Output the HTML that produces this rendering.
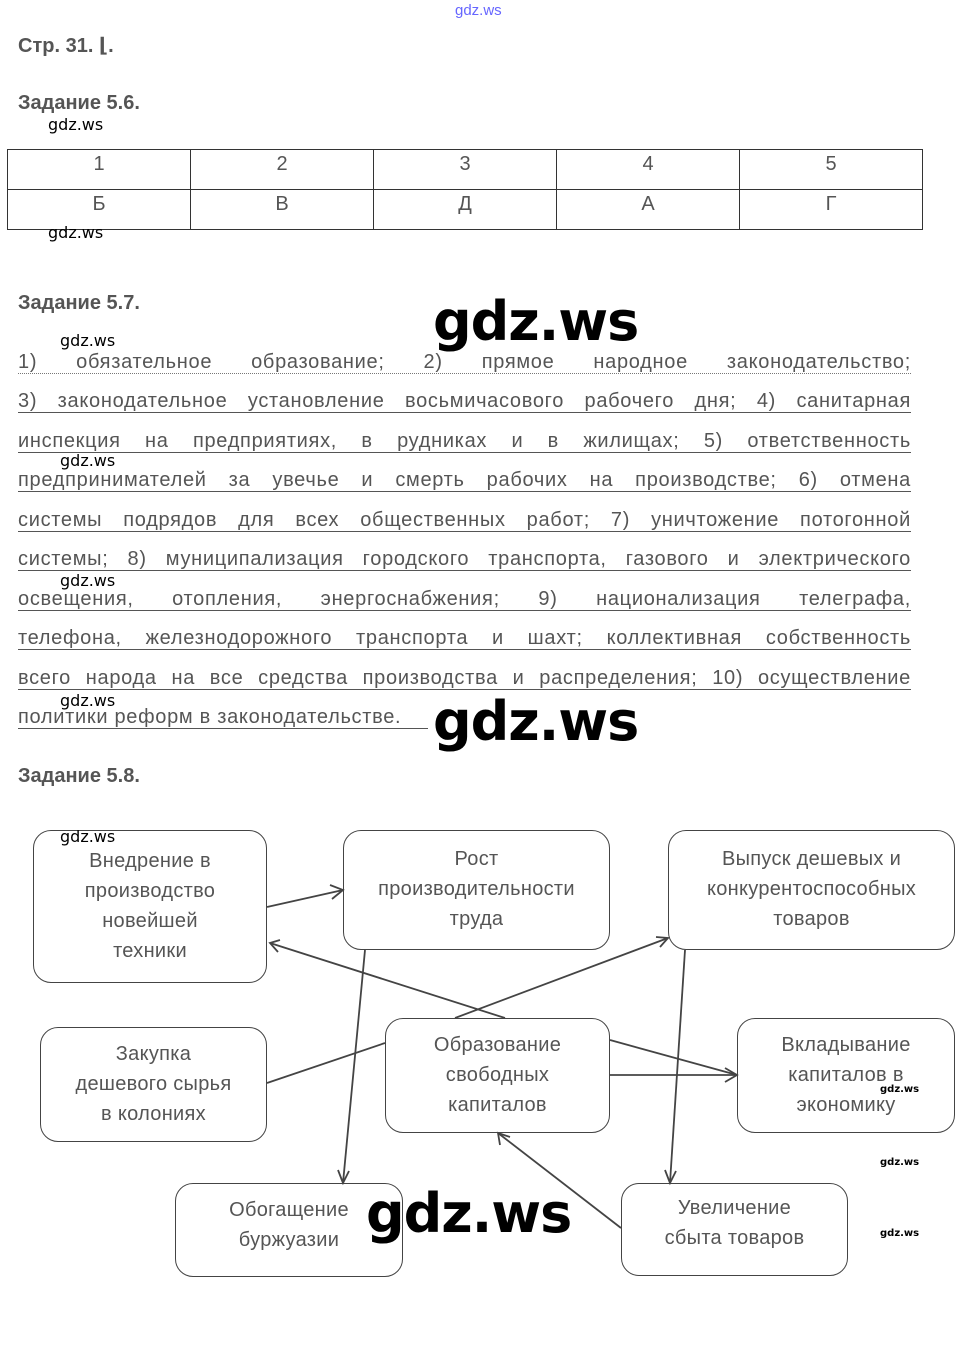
<!DOCTYPE html>
<html><head><meta charset="utf-8"><style>
body{margin:0;width:965px;height:1354px;background:#fff;position:relative;overflow:hidden;font-family:"Liberation Sans","DejaVu Sans",sans-serif;}
.a{position:absolute;white-space:nowrap;}
.h{font-size:20px;font-weight:bold;color:#555;}
.wm{position:absolute;font-family:"DejaVu Sans","Liberation Sans",sans-serif;font-weight:bold;color:#000;}
.s{font-size:16px;font-weight:normal;}
.L{font-size:54px;letter-spacing:-1px;}
.ln{position:absolute;left:18px;width:893px;font-size:20px;letter-spacing:0.7px;color:#555;text-align:justify;text-align-last:justify;white-space:nowrap;border-bottom:1.5px solid #555;line-height:22px;height:22px;}
table{position:absolute;left:7px;top:149px;border-collapse:collapse;}
td{border:1px solid #333;width:182px;height:39px;text-align:center;font-size:20px;color:#555;vertical-align:top;padding:0;line-height:28px;}
.bx{position:absolute;border:1.5px solid #444;border-radius:18px;box-sizing:border-box;text-align:center;font-size:20px;letter-spacing:0.3px;color:#555;line-height:30px;}
</style></head><body>
<div class="a" style="left:455px;top:2px;font-size:15px;color:#66f;">gdz.ws</div>
<div class="a h" style="left:18px;top:33px;">Стр. 31. ⌊.</div>
<div class="a h" style="left:18px;top:92px;">Задание 5.6.</div>
<div class="wm s" style="left:48px;top:115px;">gdz.ws</div>
<table><tr><td>1</td><td>2</td><td>3</td><td>4</td><td>5</td></tr><tr><td>Б</td><td>В</td><td>Д</td><td>А</td><td>Г</td></tr></table>
<div class="wm s" style="left:48px;top:223px;">gdz.ws</div>
<div class="a h" style="left:18px;top:292px;">Задание 5.7.</div>

<div class="ln" style="top:351px;border-bottom:1.5px dotted #777;">1) обязательное образование; 2) прямое народное законодательство;</div>
<div class="ln" style="top:390px;">3) законодательное установление восьмичасового рабочего дня; 4) санитарная</div>
<div class="ln" style="top:430px;">инспекция на предприятиях, в рудниках и в жилищах; 5) ответственность</div>
<div class="ln" style="top:469px;">предпринимателей за увечье и смерть рабочих на производстве; 6) отмена</div>
<div class="ln" style="top:509px;">системы подрядов для всех общественных работ; 7) уничтожение потогонной</div>
<div class="ln" style="top:548px;">системы; 8) муниципализация городского транспорта, газового и электрического</div>
<div class="ln" style="top:588px;">освещения, отопления, энергоснабжения; 9) национализация телеграфа,</div>
<div class="ln" style="top:627px;">телефона, железнодорожного транспорта и шахт; коллективная собственность</div>
<div class="ln" style="top:667px;">всего народа на все средства производства и распределения; 10) осуществление</div>
<div class="ln" style="top:706px;width:410px;text-align:left;text-align-last:left;">политики реформ в законодательстве.</div>
<div class="wm s" style="left:60px;top:331px;">gdz.ws</div>
<div class="wm s" style="left:60px;top:451px;">gdz.ws</div>
<div class="wm s" style="left:60px;top:571px;">gdz.ws</div>
<div class="wm s" style="left:60px;top:691px;">gdz.ws</div>
<div class="wm L" style="left:433px;top:290px;">gdz.ws</div>
<div class="wm L" style="left:433px;top:690px;">gdz.ws</div>

<div class="a h" style="left:18px;top:765px;">Задание 5.8.</div>

<div class="bx" style="left:33px;top:830px;width:234px;height:153px;padding-top:15px;">Внедрение в<br>производство<br>новейшей<br>техники</div>
<div class="bx" style="left:343px;top:830px;width:267px;height:120px;padding-top:13px;">Рост<br>производительности<br>труда</div>
<div class="bx" style="left:668px;top:830px;width:287px;height:120px;padding-top:13px;">Выпуск дешевых и<br>конкурентоспособных<br>товаров</div>
<div class="bx" style="left:40px;top:1027px;width:227px;height:115px;padding-top:11px;">Закупка<br>дешевого сырья<br>в колониях</div>
<div class="bx" style="left:385px;top:1018px;width:225px;height:115px;padding-top:11px;">Образование<br>свободных<br>капиталов</div>
<div class="bx" style="left:737px;top:1018px;width:218px;height:115px;padding-top:11px;">Вкладывание<br>капиталов в<br>экономику</div>
<div class="bx" style="left:175px;top:1183px;width:228px;height:94px;padding-top:11px;">Обогащение<br>буржуазии</div>
<div class="bx" style="left:621px;top:1183px;width:227px;height:93px;padding-top:9px;">Увеличение<br>сбыта товаров</div>

<svg width="965" height="1354" style="position:absolute;left:0;top:0;" fill="none" stroke="#444" stroke-width="1.8">
<line x1="267" y1="907" x2="343" y2="890"/><polyline points="330,885 343,890 332,899"/>
<line x1="505" y1="1018" x2="270" y2="943"/><polyline points="280,940 270,943 278,952"/>
<line x1="455" y1="1018" x2="668" y2="938"/><polyline points="656,937 668,938 660,947"/>
<line x1="267" y1="1083" x2="385" y2="1043"/>
<line x1="610" y1="1040" x2="737" y2="1075"/>
<line x1="610" y1="1075" x2="737" y2="1075"/><polyline points="725,1068 737,1075 725,1082"/>
<line x1="365" y1="950" x2="343" y2="1183"/><polyline points="338,1170 343,1183 349,1171"/>
<line x1="685" y1="950" x2="670" y2="1183"/><polyline points="665,1170 670,1183 676,1171"/>
<line x1="621" y1="1228" x2="498" y2="1133"/><polyline points="500,1145 498,1133 510,1137"/>
</svg>
<div class="wm s" style="left:60px;top:827px;">gdz.ws</div>
<div class="wm" style="left:880px;top:1084px;font-size:10px;">gdz.ws</div>
<div class="wm" style="left:880px;top:1157px;font-size:10px;">gdz.ws</div>
<div class="wm" style="left:880px;top:1228px;font-size:10px;">gdz.ws</div>
<div class="wm L" style="left:366px;top:1182px;">gdz.ws</div>
</body></html>
